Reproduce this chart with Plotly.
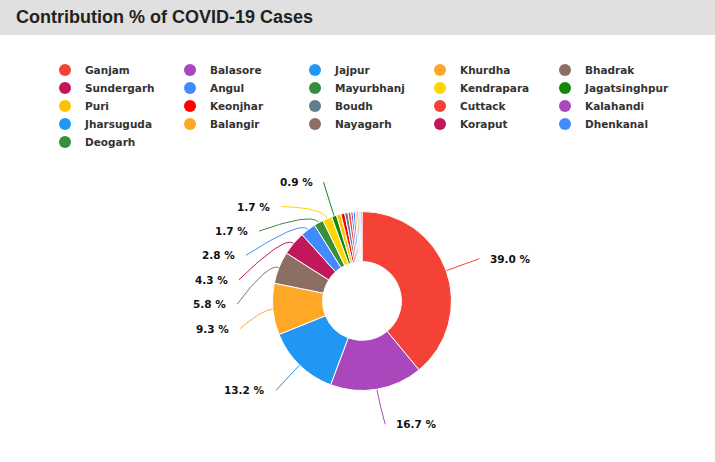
import numpy as np
import plotly.graph_objects as go

districts = ["Ganjam", "Balasore", "Jajpur", "Khurdha", "Bhadrak", "Sundergarh", "Angul",
             "Mayurbhanj", "Kendrapara", "Jagatsinghpur", "Puri", "Keonjhar", "Boudh",
             "Cuttack", "Kalahandi", "Jharsuguda", "Balangir", "Nayagarh", "Koraput",
             "Dhenkanal", "Deogarh"]
share = [39.0, 16.7, 13.2, 9.3, 5.8, 4.3, 2.8, 1.7, 1.7, 0.9, 0.8, 0.7, 0.6,
         0.5, 0.4, 0.4, 0.3, 0.3, 0.2, 0.2, 0.2]
colors = ["#f44336", "#ab47bc", "#2196f3", "#ffa726", "#8d6e63", "#c2185b", "#448aff",
          "#388e3c", "#ffd600", "#138808", "#ffc107", "#ff0000", "#607d8b",
          "#f44336", "#ab47bc", "#2196f3", "#ffa726", "#8d6e63", "#c2185b",
          "#448aff", "#388e3c"]
label_min = 0.9
title_text = "Contribution % of COVID-19 Cases"

# ---- layout geometry (pixels) ----
W, H = 715, 462
cx, cy, r = 362, 301, 89.5
R_lab_y, ell_a, ell_b, row_gap, line_gap, knee = 125, 134, 127, 24.4, 9, 12
legend_cols, legend_top, legend_row_h, legend_x = 5, 70, 18, 45

fig = go.Figure()
fig.add_trace(go.Pie(
    labels=districts, values=share, textinfo="none", sort=False,
    direction="clockwise", rotation=0, hole=0.44, showlegend=False,
    marker=dict(colors=colors, line=dict(color="white", width=1)),
    domain=dict(x=[(cx - r) / W, (cx + r) / W], y=[1 - (cy + r) / H, 1 - (cy - r) / H]),
))

# ---- outside labels with leader lines, computed from the data ----
vals = np.array(share, dtype=float)
frac = vals / vals.sum()
mid = np.cumsum(frac) - frac / 2
theta = 2 * np.pi * mid
dx_dir, dy_dir = np.sin(theta), -np.cos(theta)
idx = [i for i, v in enumerate(share) if v >= label_min]
ys = {i: cy + R_lab_y * dy_dir[i] for i in idx}
for side in (1, -1):
    grp = sorted([i for i in idx if np.sign(dx_dir[i]) == side], key=lambda i: ys[i])
    prev = -1e9
    for i in grp:
        ys[i] = max(ys[i], prev + row_gap)
        prev = ys[i]

for i in idx:
    side = 1 if dx_dir[i] > 0 else -1
    y = ys[i]
    ddx = ell_a * np.sqrt(max(1 - ((y - cy) / ell_b) ** 2, 0))
    xt = cx + side * ddx
    p0 = np.array([cx + r * dx_dir[i], cy + r * dy_dir[i]])
    c1 = np.array([cx + (r + knee) * dx_dir[i], cy + (r + knee) * dy_dir[i]])
    p2 = np.array([xt - side * line_gap, y])
    t = np.linspace(0, 1, 25)[:, None]
    pts = (1 - t) ** 2 * p0 + 2 * (1 - t) * t * c1 + t ** 2 * p2
    fig.add_trace(go.Scatter(x=pts[:, 0], y=pts[:, 1], mode="lines", showlegend=False,
                             hoverinfo="skip", line=dict(color=colors[i], width=1)))
    fig.add_annotation(x=xt, y=y, xref="x", yref="y", text=f"{share[i]:.1f} %",
                       showarrow=False, xanchor="left" if side > 0 else "right",
                       yanchor="middle",
                       font=dict(family="DejaVu Sans", size=10.5, color="#111", weight="bold"))

# ---- legend with circle markers: one horizontal legend per row ----
n_rows = (len(districts) + legend_cols - 1) // legend_cols
for k, (name, c) in enumerate(zip(districts, colors)):
    row = k // legend_cols
    fig.add_trace(go.Scatter(x=[None], y=[None], mode="markers", name=name,
                             legend="legend" if row == 0 else f"legend{row + 1}",
                             marker=dict(color=c, size=12, symbol="circle")))
legend_layout = {}
for row in range(n_rows):
    key = "legend" if row == 0 else f"legend{row + 1}"
    legend_layout[key] = dict(
        orientation="h", x=legend_x / W, y=1 - (legend_top + row * legend_row_h) / H,
        xanchor="left", yanchor="middle",
        entrywidth=80, entrywidthmode="pixels", itemwidth=30,
        font=dict(family="DejaVu Sans", size=10.5, color="#333", weight="bold"),
        bgcolor="rgba(0,0,0,0)")

fig.add_shape(type="rect", xref="paper", yref="paper", x0=0, x1=1,
              y0=1 - 35 / H, y1=1, fillcolor="#e0e0e0", line=dict(width=0), layer="below")
fig.add_annotation(text=title_text, xref="paper", yref="paper", x=14 / W, y=1 - 17 / H,
                   xanchor="left", yanchor="middle", showarrow=False,
                   font=dict(family="Liberation Sans", size=18, color="#222", weight="bold"))

fig.update_layout(
    width=W, height=H, margin=dict(l=0, r=0, t=0, b=0),
    paper_bgcolor="white", plot_bgcolor="rgba(0,0,0,0)",
    xaxis=dict(visible=False, range=[0, W], domain=[0, 1], fixedrange=True),
    yaxis=dict(visible=False, range=[H, 0], domain=[0, 1], fixedrange=True),
    **legend_layout,
)
fig.write_html("out.html", post_script="document.body.style.margin='0';",
               config={"displayModeBar": False})
